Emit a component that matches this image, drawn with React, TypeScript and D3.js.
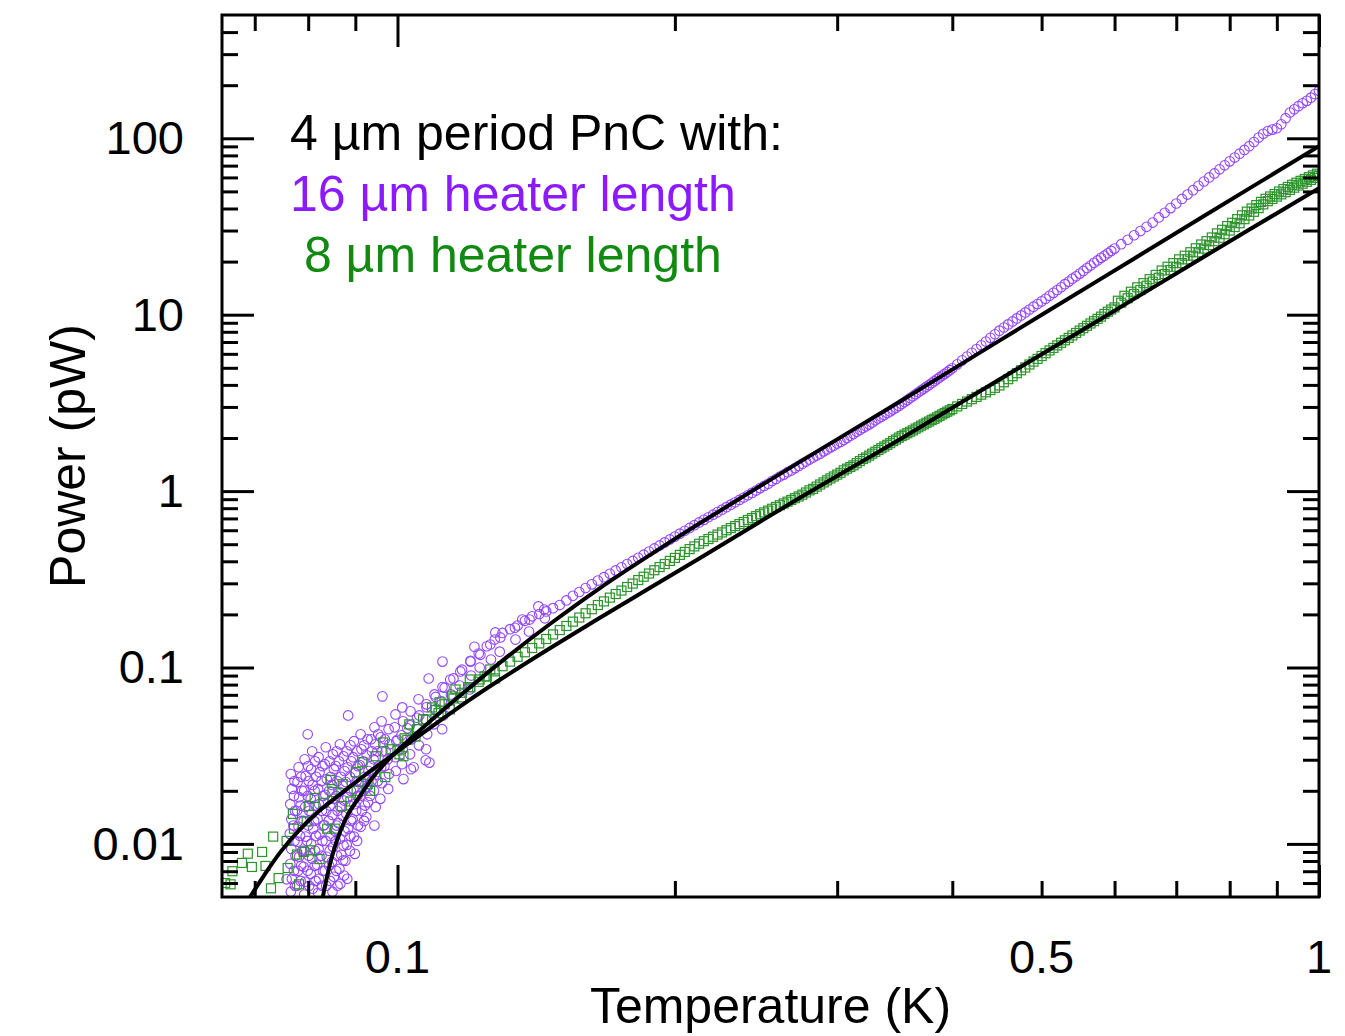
import { useEffect, useRef } from 'react';
import * as d3 from 'd3';

// temperature grid of the smooth part of both sweeps (K)
const sweepTemp = [
  0.100, 0.105, 0.110, 0.115, 0.120, 0.125, 0.130, 0.135, 0.140, 0.145,
  0.150, 0.155, 0.160, 0.165, 0.170, 0.175, 0.180, 0.185, 0.190, 0.195,
  0.200, 0.205, 0.210, 0.215, 0.220, 0.225, 0.230, 0.235, 0.240, 0.245,
  0.250, 0.255, 0.260, 0.265, 0.270, 0.275, 0.280, 0.285, 0.290, 0.295,
  0.300, 0.305, 0.310, 0.315, 0.320, 0.325, 0.330, 0.335, 0.340, 0.345,
  0.350, 0.355, 0.360, 0.365, 0.370, 0.375, 0.380, 0.385, 0.390, 0.395,
  0.400,
  0.41, 0.42, 0.43, 0.44, 0.45, 0.46, 0.47, 0.48, 0.49, 0.50,
  0.51, 0.52, 0.53, 0.54, 0.55, 0.56, 0.57, 0.58, 0.59, 0.60,
  0.61, 0.62, 0.63, 0.64, 0.65, 0.66, 0.67, 0.68, 0.69, 0.70,
  0.71, 0.72, 0.73, 0.74, 0.75, 0.76, 0.77, 0.78, 0.79, 0.80,
  0.81, 0.82, 0.83, 0.84, 0.85, 0.86, 0.87, 0.88, 0.89, 0.90,
  0.91, 0.92, 0.93, 0.94, 0.95, 0.96, 0.97, 0.98, 0.99, 1.00,
];

// power (pW), 16 um heater
const power16um = [
  0.0389, 0.0519, 0.0681, 0.0867, 0.109, 0.132, 0.157, 0.173, 0.195, 0.208,
  0.226, 0.255, 0.282, 0.311, 0.340, 0.370, 0.402, 0.436, 0.473, 0.512,
  0.552, 0.596, 0.641, 0.687, 0.735, 0.785, 0.838, 0.891, 0.947, 1.007,
  1.07, 1.14, 1.21, 1.28, 1.35, 1.43, 1.51, 1.59, 1.68, 1.77,
  1.86, 1.95, 2.06, 2.17, 2.28, 2.39, 2.52, 2.64, 2.77, 2.90,
  3.04, 3.20, 3.37, 3.54, 3.72, 3.91, 4.10, 4.31, 4.52, 4.73,
  4.97,
  5.51, 6.08, 6.71, 7.39, 8.12, 8.81, 9.53, 10.3, 11.1, 11.9,
  12.8, 13.8, 14.9, 16.0, 17.1, 18.4, 19.7, 21.0, 22.3, 23.7,
  25.1, 26.6, 28.2, 29.8, 31.5, 33.3, 35.6, 37.8, 40.2, 42.7,
  45.3, 48.0, 50.8, 53.8, 56.9, 60.0, 63.2, 66.7, 70.3, 74.0,
  77.8, 81.8, 85.9, 90.2, 95.3, 101, 106, 110, 112, 114,
  120, 130, 140, 146, 152, 158, 163, 170, 178, 186,
];

// power (pW), 8 um heater
const power8um = [
  0.0339, 0.0447, 0.0574, 0.0668, 0.0773, 0.0889, 0.1017, 0.115, 0.129, 0.145,
  0.163, 0.182, 0.203, 0.226, 0.249, 0.273, 0.299, 0.327, 0.356, 0.386,
  0.418, 0.452, 0.486, 0.520, 0.551, 0.583, 0.617, 0.650, 0.686, 0.721,
  0.757, 0.794, 0.832, 0.871, 0.912, 0.955, 1.01, 1.06, 1.12, 1.18,
  1.24, 1.31, 1.37, 1.44, 1.52, 1.59, 1.67, 1.75, 1.83, 1.92,
  2.01, 2.09, 2.17, 2.26, 2.35, 2.44, 2.53, 2.62, 2.72, 2.82,
  2.92,
  3.12, 3.32, 3.52, 3.74, 3.97, 4.31, 4.66, 5.02, 5.42, 5.83,
  6.27, 6.70, 7.16, 7.63, 8.13, 8.65, 9.19, 9.75, 10.4, 11.0,
  11.7, 12.4, 13.1, 13.8, 14.6, 15.4, 16.2, 17.0, 17.9, 18.7,
  19.6, 20.6, 21.6, 22.6, 23.7, 24.8, 26.1, 27.3, 28.6, 30.0,
  31.4, 33.0, 34.8, 36.5, 38.3, 40.2, 42.2, 44.0, 45.3, 46.7,
  48.1, 49.5, 51.0, 52.5, 54.0, 55.3, 56.7, 58.1, 59.6, 61.0,
];

// second pass through the middle temperatures (K)
const pass2Temp = [
  0.1025, 0.1075, 0.1125, 0.1175, 0.1225, 0.1275, 0.1325, 0.1375, 0.1425, 0.1475,
  0.1525, 0.1575, 0.1625, 0.1675, 0.1725, 0.1775, 0.1825, 0.1875, 0.1925, 0.1975,
  0.2025, 0.2075, 0.2125, 0.2175, 0.2225, 0.2275, 0.2325, 0.2375, 0.2425, 0.2475,
  0.2525, 0.2575, 0.2625, 0.2675, 0.2725, 0.2775, 0.2825, 0.2875, 0.2925, 0.2975,
  0.3025, 0.3075, 0.3125, 0.3175, 0.3225, 0.3275, 0.3325, 0.3375, 0.3425, 0.3475,
  0.3525, 0.3575, 0.3625, 0.3675, 0.3725, 0.3775, 0.3825, 0.3875, 0.3925, 0.3975,
  0.405, 0.415, 0.425, 0.435, 0.445, 0.455, 0.465, 0.475, 0.485, 0.495,
  0.505, 0.515, 0.525, 0.535, 0.545, 0.555, 0.565, 0.575, 0.585, 0.595,
];
const power16umPass2 = [
  0.0452, 0.0595, 0.0768, 0.0972, 0.120, 0.144, 0.165, 0.184, 0.201, 0.217,
  0.240, 0.268, 0.296, 0.325, 0.355, 0.386, 0.419, 0.454, 0.492, 0.532,
  0.574, 0.618, 0.664, 0.711, 0.760, 0.811, 0.864, 0.919, 0.977, 1.04,
  1.10, 1.17, 1.24, 1.31, 1.39, 1.47, 1.55, 1.63, 1.72, 1.81,
  1.90, 2.00, 2.11, 2.22, 2.33, 2.45, 2.58, 2.70, 2.83, 2.97,
  3.12, 3.28, 3.45, 3.63, 3.81, 4.00, 4.20, 4.41, 4.62, 4.85,
  5.23, 5.79, 6.39, 7.04, 7.75, 8.46, 9.16, 9.91, 10.7, 11.5,
  12.3, 13.3, 14.3, 15.4, 16.5, 17.7, 19.0, 20.3, 21.6, 23.0,
];
const power8umPass2 = [
  0.0389, 0.0507, 0.0619, 0.0719, 0.0829, 0.0951, 0.108, 0.122, 0.137, 0.154,
  0.172, 0.192, 0.214, 0.237, 0.261, 0.286, 0.313, 0.341, 0.371, 0.402,
  0.435, 0.469, 0.503, 0.535, 0.567, 0.600, 0.633, 0.668, 0.703, 0.739,
  0.775, 0.813, 0.851, 0.891, 0.933, 0.982, 1.03, 1.09, 1.15, 1.21,
  1.27, 1.34, 1.40, 1.48, 1.55, 1.63, 1.71, 1.79, 1.87, 1.96,
  2.05, 2.13, 2.21, 2.30, 2.39, 2.48, 2.57, 2.67, 2.77, 2.87,
  3.02, 3.22, 3.42, 3.63, 3.85, 4.14, 4.48, 4.84, 5.22, 5.62,
  6.05, 6.48, 6.93, 7.39, 7.88, 8.39, 8.92, 9.47, 10.1, 10.7,
];

// second pass of the 8 um heater at the high end (K, pW)
const pass3Temp = [
  0.605, 0.615, 0.625, 0.635, 0.645, 0.655, 0.665, 0.675, 0.685, 0.695,
  0.705, 0.715, 0.725, 0.735, 0.745, 0.755, 0.765, 0.775, 0.785, 0.795,
  0.805, 0.815, 0.825, 0.835, 0.845, 0.855, 0.865, 0.875, 0.885, 0.895,
  0.905, 0.915, 0.925, 0.935, 0.945, 0.955, 0.965, 0.975, 0.985, 0.995,
];
const power8umPass3 = [
  12.0, 12.8, 13.5, 14.3, 15.1, 15.9, 16.8, 17.8, 18.7, 19.6,
  20.6, 21.6, 22.6, 23.8, 25.0, 26.1, 27.4, 28.9, 30.3, 31.8,
  33.2, 34.8, 36.6, 38.4, 40.0, 41.8, 43.6, 45.4, 46.8, 48.3,
  49.9, 51.5, 53.0, 54.5, 56.0, 57.4, 58.8, 60.2, 61.6, 63.0,
];

// noisy low temperature points [T (K), P (pW)], 16 um heater
const scatter16um: [number, number][] = [
  [0.0766, 0.0249], [0.0768, 0.0205], [0.0765, 0.0168], [0.0767, 0.0138], [0.0764, 0.0114], [0.0767, 0.00937], [0.0765, 0.00771], [0.0768, 0.00634], [0.0766, 0.00536],
  [0.0781, 0.0272], [0.0779, 0.0224], [0.0782, 0.0184], [0.0778, 0.0154], [0.0781, 0.0125], [0.0779, 0.0103], [0.0782, 0.00845], [0.0780, 0.00704], [0.0778, 0.00579],
  [0.0793, 0.0302], [0.0795, 0.0243], [0.0792, 0.0200], [0.0794, 0.0162], [0.0791, 0.0135], [0.0795, 0.0110], [0.0793, 0.00913], [0.0791, 0.00742], [0.0794, 0.00610], [0.0792, 0.00516],
  [0.0808, 0.0335], [0.0806, 0.0265], [0.0809, 0.0216], [0.0805, 0.0180], [0.0807, 0.0148], [0.0810, 0.0122], [0.0806, 0.0100], [0.0808, 0.00823], [0.0805, 0.00677], [0.0809, 0.00557],
  [0.0821, 0.0310], [0.0823, 0.0255], [0.0820, 0.0205], [0.0822, 0.0168], [0.0819, 0.0138], [0.0823, 0.0113], [0.0821, 0.00937], [0.0818, 0.00761], [0.0822, 0.00634], [0.0820, 0.00528],
  [0.0836, 0.0353], [0.0834, 0.0283], [0.0838, 0.0233], [0.0835, 0.0190], [0.0837, 0.0154], [0.0833, 0.0128], [0.0836, 0.0104], [0.0838, 0.00845], [0.0834, 0.00704], [0.0837, 0.00579],
  [0.0851, 0.0322], [0.0853, 0.0265], [0.0849, 0.0216], [0.0852, 0.0180], [0.0850, 0.0146], [0.0854, 0.0119], [0.0851, 0.00962], [0.0849, 0.00792], [0.0853, 0.00651], [0.0850, 0.00536],
  [0.0866, 0.0367], [0.0864, 0.0294], [0.0868, 0.0240], [0.0865, 0.0197], [0.0867, 0.0162], [0.0863, 0.0131], [0.0866, 0.0107], [0.0869, 0.00867], [0.0865, 0.00723], [0.0867, 0.00594],
  [0.0881, 0.0335], [0.0883, 0.0272], [0.0879, 0.0224], [0.0882, 0.0184], [0.0880, 0.0148], [0.0884, 0.0122], [0.0881, 0.00987], [0.0878, 0.00802], [0.0882, 0.00634],
  [0.0897, 0.0382], [0.0895, 0.0310], [0.0899, 0.0252], [0.0896, 0.0205], [0.0898, 0.0168], [0.0894, 0.0138], [0.0897, 0.0110], [0.0899, 0.00878],
  [0.0912, 0.0418], [0.0914, 0.0344], [0.0910, 0.0280], [0.0913, 0.0227], [0.0911, 0.0187], [0.0915, 0.0154], [0.0912, 0.0125],
  [0.0928, 0.0392], [0.0926, 0.0318], [0.0930, 0.0259], [0.0927, 0.0210], [0.0929, 0.0172], [0.0925, 0.0142],
  [0.0944, 0.0458], [0.0946, 0.0367], [0.0942, 0.0302], [0.0945, 0.0246], [0.0943, 0.0200], [0.0947, 0.0162],
  [0.0961, 0.0495], [0.0959, 0.0402], [0.0963, 0.0335], [0.0960, 0.0272], [0.0962, 0.0221], [0.0958, 0.0180],
  [0.0978, 0.0447], [0.0980, 0.0367], [0.0976, 0.0302], [0.0979, 0.0249], [0.0977, 0.0205],
  [0.0995, 0.0542], [0.0993, 0.0458], [0.0997, 0.0382], [0.0994, 0.0310], [0.0996, 0.0259],
  [0.1012, 0.0594], [0.1014, 0.0495], [0.1010, 0.0413], [0.1013, 0.0344], [0.1011, 0.0283], [0.1015, 0.0233],
  [0.1033, 0.0564], [0.1031, 0.0470], [0.1035, 0.0392], [0.1032, 0.0322], [0.1034, 0.0265],
  [0.1054, 0.0660], [0.1056, 0.0535], [0.1052, 0.0447], [0.1055, 0.0362],
  [0.1075, 0.0618], [0.1073, 0.0508], [0.1077, 0.0418], [0.1074, 0.0344],
  [0.1097, 0.0704], [0.1099, 0.0579], [0.1095, 0.0476],
  [0.1119, 0.0774], [0.1117, 0.0643], [0.1121, 0.0535], [0.1118, 0.0447],
  [0.1141, 0.0855], [0.1143, 0.0704], [0.1139, 0.0594],
  [0.1170, 0.0950], [0.1168, 0.0790], [0.1172, 0.0660],
  [0.1200, 0.108], [0.1202, 0.0900], [0.1198, 0.0751],
  [0.1230, 0.118], [0.1228, 0.100],
  [0.1261, 0.135], [0.1263, 0.111],
  [0.1293, 0.148], [0.1291, 0.123],
  [0.1341, 0.168], [0.1343, 0.144],
  [0.1391, 0.187], [0.1389, 0.160],
  [0.1443, 0.213], [0.1445, 0.190],
  [0.0799, 0.0418], [0.0884, 0.0535], [0.0963, 0.0686], [0.1081, 0.0866], [0.1119, 0.108],
  [0.1212, 0.131], [0.1277, 0.158], [0.0944, 0.0127], [0.1041, 0.0272], [0.1083, 0.0289],
  [0.1073, 0.0298], [0.1366, 0.187], [0.1422, 0.222], [0.0758, 0.0063],
  // second layer of the dense cloud
  [0.0773, 0.0227], [0.0772, 0.0187], [0.0774, 0.0154], [0.0771, 0.0127], [0.0773, 0.0104], [0.0775, 0.00856], [0.0772, 0.00704], [0.0774, 0.00579],
  [0.0786, 0.0240], [0.0788, 0.0200], [0.0785, 0.0165], [0.0787, 0.0135], [0.0784, 0.0111], [0.0788, 0.00913], [0.0786, 0.00751], [0.0785, 0.00617],
  [0.0800, 0.0276], [0.0801, 0.0227], [0.0799, 0.0187], [0.0802, 0.0154], [0.0800, 0.0127], [0.0798, 0.0104], [0.0801, 0.00856], [0.0799, 0.00704], [0.0802, 0.00579],
  [0.0814, 0.0294], [0.0816, 0.0240], [0.0813, 0.0200], [0.0815, 0.0165], [0.0812, 0.0135], [0.0816, 0.0111], [0.0814, 0.00913], [0.0813, 0.00751], [0.0815, 0.00617],
  [0.0829, 0.0276], [0.0827, 0.0227], [0.0830, 0.0187], [0.0828, 0.0154], [0.0831, 0.0127], [0.0829, 0.0104], [0.0827, 0.00856], [0.0830, 0.00704], [0.0828, 0.00579],
  [0.0844, 0.0294], [0.0846, 0.0240], [0.0843, 0.0200], [0.0845, 0.0165], [0.0842, 0.0135], [0.0846, 0.0111], [0.0844, 0.00913], [0.0843, 0.00751], [0.0845, 0.00617],
  [0.0859, 0.0335], [0.0857, 0.0276], [0.0860, 0.0227], [0.0858, 0.0187], [0.0861, 0.0154], [0.0859, 0.0127], [0.0857, 0.0104], [0.0860, 0.00856], [0.0858, 0.00704], [0.0861, 0.00579],
  [0.0874, 0.0314], [0.0876, 0.0259], [0.0873, 0.0213], [0.0875, 0.0176], [0.0872, 0.0144], [0.0876, 0.0118], [0.0874, 0.00980], [0.0873, 0.00807], [0.0875, 0.00662],
  [0.0889, 0.0362], [0.0891, 0.0294], [0.0888, 0.0240], [0.0890, 0.0200], [0.0887, 0.0165], [0.0891, 0.0135], [0.0889, 0.0111], [0.0888, 0.00913],
  [0.0904, 0.0335], [0.0906, 0.0276], [0.0903, 0.0227], [0.0905, 0.0187], [0.0902, 0.0154], [0.0906, 0.0127], [0.0904, 0.0104],
  [0.0920, 0.0362], [0.0918, 0.0294], [0.0921, 0.0240], [0.0919, 0.0200], [0.0922, 0.0165], [0.0920, 0.0135],
  [0.0936, 0.0392], [0.0938, 0.0335], [0.0935, 0.0276], [0.0937, 0.0227], [0.0934, 0.0187],
  [0.0953, 0.0418], [0.0951, 0.0335], [0.0954, 0.0276], [0.0952, 0.0227],
  [0.0969, 0.0392], [0.0971, 0.0335], [0.0968, 0.0276],
];

// noisy low temperature points [T (K), P (pW)], 8 um heater
const scatter8um: [number, number][] = [
  [0.0650, 0.0060], [0.0659, 0.0059], [0.0662, 0.0070], [0.0678, 0.0078], [0.0688, 0.0088],
  [0.0695, 0.0074], [0.0713, 0.0090], [0.0719, 0.0075], [0.0729, 0.0056], [0.0733, 0.0110],
  [0.0743, 0.0064], [0.0758, 0.0104], [0.0760, 0.0073], [0.0772, 0.0122], [0.0770, 0.0148],
  [0.0778, 0.0087], [0.0782, 0.0059], [0.0791, 0.0090], [0.0797, 0.0134], [0.0801, 0.0164],
  [0.0804, 0.0092], [0.0813, 0.0182], [0.0823, 0.0082], [0.0831, 0.0171], [0.0839, 0.0122],
  [0.0846, 0.0230], [0.0850, 0.0197], [0.0855, 0.0122], [0.0872, 0.0218], [0.0870, 0.0164],
  [0.0889, 0.0174], [0.0901, 0.0255], [0.0903, 0.0200], [0.0916, 0.0290], [0.0928, 0.0218],
  [0.0934, 0.0200], [0.0947, 0.0314], [0.0965, 0.0376], [0.0970, 0.0239], [0.0983, 0.0344],
  [0.1005, 0.0322], [0.1015, 0.0314], [0.1018, 0.0397], [0.1030, 0.0476], [0.1046, 0.0406],
  [0.1066, 0.0508], [0.1090, 0.0594], [0.1108, 0.0551], [0.1111, 0.0635], [0.1140, 0.0579],
  [0.1146, 0.0686], [0.1156, 0.0751], [0.1173, 0.0677], [0.1193, 0.0773], [0.1198, 0.0855],
  [0.1228, 0.0855], [0.1243, 0.0890], [0.1261, 0.0975], [0.1276, 0.0867],
];

// fitted curves [T (K), P (pW)]
const fit16um: [number, number][] = [
  [0.0829, 0.00489], [0.0846, 0.00791], [0.0861, 0.0107], [0.0883, 0.0146], [0.0912, 0.0189],
  [0.0942, 0.0242], [0.0988, 0.0318], [0.1094, 0.0515], [0.1191, 0.0751], [0.1293, 0.107],
  [0.1465, 0.177], [0.166, 0.283], [0.188, 0.435], [0.213, 0.659], [0.273, 1.46], [0.351, 3.22],
  [0.450, 7.13], [0.578, 15.8], [0.741, 34.9], [1.0, 90.1],
];
const fit8um: [number, number][] = [
  [0.0690, 0.00489], [0.0716, 0.00659], [0.0747, 0.00904], [0.0785, 0.0122], [0.0825, 0.0156],
  [0.0874, 0.0198], [0.0928, 0.0252], [0.0988, 0.0320], [0.1094, 0.0470], [0.1191, 0.0643],
  [0.1293, 0.0855], [0.1465, 0.129], [0.166, 0.192], [0.188, 0.283], [0.213, 0.418], [0.273, 0.913],
  [0.351, 1.97], [0.450, 4.29], [0.578, 9.37], [0.741, 20.5], [1.0, 52.2],
];

const xLabels = [0.1, 0.5, 1];
const yLabels = [0.01, 0.1, 1, 10, 100];
const legendLines = ['4 µm period PnC with:', '16 µm heater length', ' 8 µm heater length'];
const legendColors = ['#000000', '#8c1aff', '#108a10'];

const FONT = '"Liberation Sans", Arial, Helvetica, sans-serif';

export default function App() {
  const svgRef = useRef<SVGSVGElement>(null);

  useEffect(() => {
    if (!svgRef.current) return;
    const plot = { left: 222, right: 1319, top: 15, bottom: 897 };

    const svg = d3.select(svgRef.current);
    svg.selectAll('*').remove();

    const x = d3.scaleLog().domain([0.0645, 1]).range([plot.left, plot.right]);
    const y = d3.scaleLog().domain([0.005, 500]).range([plot.bottom, plot.top]);

    const isMajor = (v: number) => Math.abs(Math.log10(v) - Math.round(Math.log10(v))) < 1e-6;
    const xTicks = x.ticks();
    const yTicks = y.ticks().filter(v => v > 0.0051 && v < 499);

    svg.append('defs').append('clipPath').attr('id', 'plot-clip')
      .append('rect')
      .attr('x', plot.left).attr('y', plot.top)
      .attr('width', plot.right - plot.left).attr('height', plot.bottom - plot.top);

    const data = svg.append('g').attr('clip-path', 'url(#plot-clip)');
    const zip = (t: number[], p: number[]) => t.map((v, i) => [v, p[i]] as [number, number]);

    // 16 um heater: circles
    const pts16 = [
      ...scatter16um,
      ...zip(sweepTemp, power16um),
      ...zip(pass2Temp, power16umPass2),
    ];
    data.append('g')
      .selectAll('circle')
      .data(pts16)
      .enter()
      .append('circle')
      .attr('cx', d => x(d[0]))
      .attr('cy', d => y(d[1]))
      .attr('r', 4.8)
      .attr('fill', 'none')
      .attr('stroke', '#9446ff')
      .attr('stroke-width', 1.1);

    // 8 um heater: squares
    const pts8 = [
      ...scatter8um,
      ...zip(sweepTemp, power8um),
      ...zip(pass2Temp, power8umPass2),
      ...zip(pass3Temp, power8umPass3),
    ];
    data.append('g')
      .selectAll('rect')
      .data(pts8)
      .enter()
      .append('rect')
      .attr('x', d => x(d[0]) - 4.5)
      .attr('y', d => y(d[1]) - 4.5)
      .attr('width', 9)
      .attr('height', 9)
      .attr('fill', 'none')
      .attr('stroke', '#2c942c')
      .attr('stroke-width', 1.2);

    // fits
    const line = d3.line<[number, number]>()
      .x(d => x(d[0]))
      .y(d => y(d[1]))
      .curve(d3.curveCatmullRom.alpha(0.5));
    [fit16um, fit8um].forEach(f => {
      data.append('path')
        .attr('d', line(f))
        .attr('fill', 'none')
        .attr('stroke', '#000')
        .attr('stroke-width', 4);
    });

    // axes: major and minor ticks on all four sides, pointing inward
    const axisGroup = (axis: d3.Axis<number>, tx: number, ty: number) => {
      const g = svg.append('g').attr('transform', `translate(${tx},${ty})`).call(axis);
      g.select('.domain').remove();
      g.selectAll('text').remove();
      g.selectAll('line').attr('stroke', '#000').attr('stroke-width', 3);
    };
    const xMaj = xTicks.filter(isMajor);
    const xMin = xTicks.filter(v => !isMajor(v));
    const yMaj = yTicks.filter(isMajor);
    const yMin = yTicks.filter(v => !isMajor(v));
    const blank = () => '';

    axisGroup(d3.axisBottom<number>(x).tickValues(xMaj).tickSize(-32).tickFormat(blank), 0, plot.bottom);
    axisGroup(d3.axisBottom<number>(x).tickValues(xMin).tickSize(-16).tickFormat(blank), 0, plot.bottom);
    axisGroup(d3.axisTop<number>(x).tickValues(xMaj).tickSize(-32).tickFormat(blank), 0, plot.top);
    axisGroup(d3.axisTop<number>(x).tickValues(xMin).tickSize(-16).tickFormat(blank), 0, plot.top);
    axisGroup(d3.axisLeft<number>(y).tickValues(yMaj).tickSize(-32).tickFormat(blank), plot.left, 0);
    axisGroup(d3.axisLeft<number>(y).tickValues(yMin).tickSize(-16).tickFormat(blank), plot.left, 0);
    axisGroup(d3.axisRight<number>(y).tickValues(yMaj).tickSize(-32).tickFormat(blank), plot.right, 0);
    axisGroup(d3.axisRight<number>(y).tickValues(yMin).tickSize(-16).tickFormat(blank), plot.right, 0);

    svg.append('rect')
      .attr('x', plot.left).attr('y', plot.top)
      .attr('width', plot.right - plot.left).attr('height', plot.bottom - plot.top)
      .attr('fill', 'none').attr('stroke', '#000').attr('stroke-width', 3);

    // tick labels
    svg.append('g')
      .selectAll('text')
      .data(xLabels)
      .enter()
      .append('text')
      .attr('x', d => x(d))
      .attr('y', 973)
      .attr('text-anchor', 'middle')
      .style('font-family', FONT)
      .style('font-size', '47px')
      .text(d => String(d));

    svg.append('g')
      .selectAll('text')
      .data(yLabels)
      .enter()
      .append('text')
      .attr('x', 184)
      .attr('y', d => y(d) + 16)
      .attr('text-anchor', 'end')
      .style('font-family', FONT)
      .style('font-size', '47px')
      .text(d => String(d));

    // axis titles
    svg.append('text')
      .attr('x', (plot.left + plot.right) / 2)
      .attr('y', 1023)
      .attr('text-anchor', 'middle')
      .style('font-family', FONT)
      .style('font-size', '50px')
      .text('Temperature (K)');

    svg.append('text')
      .attr('transform', `translate(85,${(plot.top + plot.bottom) / 2}) rotate(-90)`)
      .attr('text-anchor', 'middle')
      .style('font-family', FONT)
      .style('font-size', '50px')
      .text('Power (pW)');

    // legend text
    svg.append('g')
      .selectAll('text')
      .data(legendLines)
      .enter()
      .append('text')
      .attr('x', 290)
      .attr('y', (_d, i) => [150, 211, 272][i])
      .attr('fill', (_d, i) => legendColors[i])
      .style('font-family', FONT)
      .style('font-size', '50px')
      .style('white-space', 'pre')
      .text(d => d);
  }, []);

  return (
    <svg
      ref={svgRef}
      width={1345}
      height={1036}
      style={{ position: 'absolute', left: 0, top: 0, background: '#fff' }}
    />
  );
}
